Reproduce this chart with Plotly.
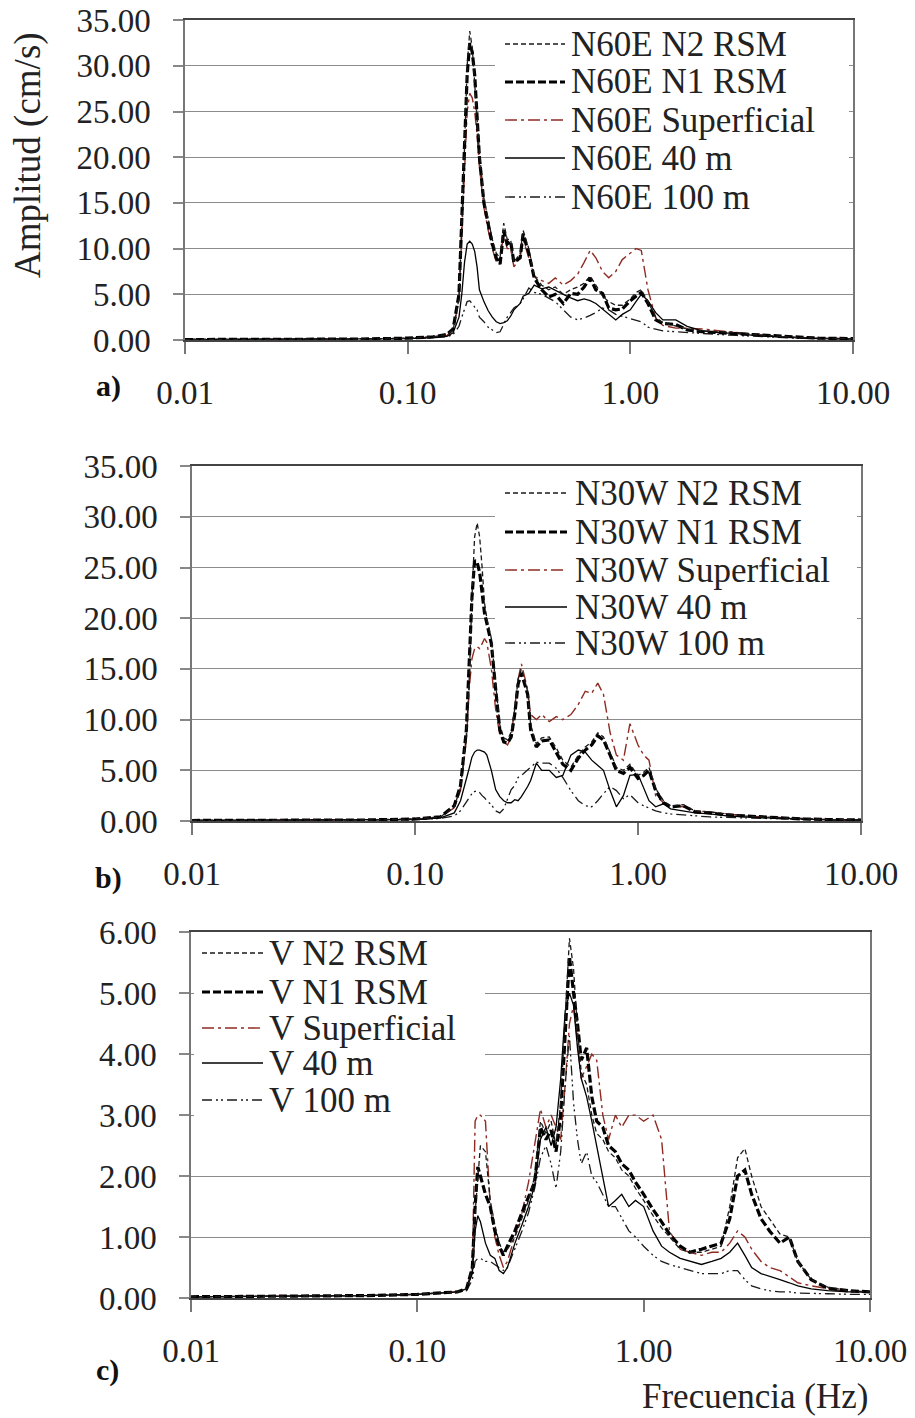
import plotly.graph_objects as go
from plotly.subplots import make_subplots

# the page adds an 8px body margin, so the figure is sized to fit the window
PAGE_W, PAGE_H, BODY = 915, 1418, 8
W, H = PAGE_W - BODY, PAGE_H - BODY
SERIF = "Liberation Serif"

# ---- data -----------------------------------------------------------------
# frequency grid shared by the two horizontal components (Hz)
freq_h = [0.01, 0.03, 0.06, 0.1, 0.13, 0.15, 0.16, 0.17, 0.175, 0.18,
          0.185, 0.19, 0.195, 0.2, 0.205, 0.21, 0.22, 0.23, 0.24, 0.25,
          0.26, 0.27, 0.28, 0.29, 0.30, 0.32, 0.33, 0.35, 0.37, 0.40,
          0.43, 0.46, 0.50, 0.54, 0.58, 0.62, 0.66, 0.70, 0.75, 0.80,
          0.86, 0.92, 1.0, 1.06, 1.12, 1.2, 1.3, 1.4, 1.6, 1.8,
          2.1, 2.5, 3.0, 3.6, 4.5, 5.5, 7.0, 10.0]

# a) N60E (cm/s)
a_n2 = [0.05, 0.08, 0.1, 0.2, 0.35, 0.6, 1.1, 4.5, 12, 21,
        30, 33.8, 32, 28, 24, 20.5, 15.5, 13, 11, 9.5,
        9, 12.8, 11, 11, 8.5, 9.5, 12, 10, 7, 6,
        5.5, 5.8, 5.0, 5.5, 5.8, 6.2, 7, 6.0, 4.8, 4.2,
        3.8, 3.8, 4.5, 5.2, 5.5, 4.2, 2.5, 1.9, 1.5, 1.2,
        1.0, 0.9, 0.8, 0.6, 0.4, 0.3, 0.2, 0.15]
a_n1 = [0.05, 0.08, 0.1, 0.2, 0.35, 0.6, 1.2, 5, 13, 22,
        29, 32.5, 31.5, 29, 25, 20, 15, 12.5, 10.5, 9,
        8.3, 12, 10.5, 10.8, 8.5, 9, 11.6, 9.5, 6.8, 5.5,
        4.7, 5.0, 4.0, 5.1, 5.0, 5.8, 6.8, 5.5, 5.1, 3.5,
        3.3, 3.4, 4.3, 4.8, 5.2, 4.0, 2.2, 1.8, 1.7, 1.1,
        0.9, 0.8, 0.7, 0.6, 0.4, 0.3, 0.2, 0.15]
a_sup = [0.05, 0.08, 0.1, 0.2, 0.3, 0.5, 1.0, 4.5, 11, 19,
         25, 27, 26.5, 25, 22.5, 19, 14.5, 12, 10, 8.5,
         9, 11.5, 10, 10, 8, 9, 11, 9, 7, 6.5,
         6.2, 6.8, 6.0, 6.5, 7.2, 8.5, 9.8, 9.0, 7.5, 6.8,
         7.5, 8.8, 9.5, 10, 9.8, 5.5, 2.4, 1.6, 1.3, 1.3,
         1.2, 1.0, 0.8, 0.6, 0.4, 0.3, 0.2, 0.15]
a_40 = [0.05, 0.08, 0.1, 0.15, 0.25, 0.4, 0.8, 2.5, 5, 8.5,
        10.5, 10.8, 10.5, 9.7, 8, 5.5, 4.2, 3.2, 2.5, 2.0,
        1.8, 1.9, 2.1, 2.6, 3.3, 4.0, 4.8, 5.1, 6.0, 5.6,
        5.8, 5.4, 5.0, 4.6, 4.3, 4.5, 4.3, 4.0, 3.4, 2.8,
        2.2, 2.8, 3.3, 4.2, 5.0, 4.3, 3.0, 2.2, 2.2, 1.5,
        1.0, 0.8, 0.7, 0.5, 0.35, 0.25, 0.15, 0.1]
a_100 = [0.05, 0.08, 0.1, 0.15, 0.25, 0.35, 0.6, 1.5, 2.5, 3.5,
         4.2, 4.3, 4.0, 3.6, 3.3, 2.5, 2.0, 1.4, 1.1, 0.8,
         0.9, 1.8, 2.5, 3.0, 3.5, 4.0, 4.5, 5.7, 5.2, 5.0,
         4.6, 4.2, 3.3, 2.5, 2.2, 2.4, 2.7, 3.0, 3.5, 3.3,
         2.8, 2.6, 2.4, 2.2, 2.0, 1.4, 1.2, 1.0, 0.9, 0.8,
         0.7, 0.6, 0.5, 0.4, 0.3, 0.2, 0.15, 0.1]

# b) N30W (cm/s)
b_n2 = [0.05, 0.08, 0.1, 0.2, 0.4, 1.4, 3.3, 8.5, 14, 22,
        28, 29.4, 28, 25, 21.5, 20, 18, 13.5, 9.5, 8.2,
        8, 8.8, 11, 14, 15, 12.8, 9.5, 7.6, 8.2, 8.3,
        7.2, 6.0, 5.3, 6.5, 7.3, 7.8, 8.7, 8.3, 6.8, 5.3,
        5.0, 5.6, 4.5, 4.8, 5.3, 3.2, 2.0, 1.5, 1.6, 1.0,
        0.9, 0.7, 0.5, 0.4, 0.3, 0.2, 0.15, 0.1]
b_n1 = [0.05, 0.08, 0.1, 0.2, 0.4, 1.5, 3.5, 9, 15, 22,
        25.7, 25.5, 24.5, 22.5, 20.5, 19.5, 17.5, 13, 9, 7.8,
        7.7, 8.3, 10.5, 13.5, 14.6, 12.5, 9, 7.3, 7.9, 8.0,
        6.8, 5.6, 5.0, 6.2, 7.0, 7.5, 8.4, 8.0, 6.5, 5.0,
        4.7, 5.3, 4.2, 4.5, 5.0, 3.0, 1.8, 1.4, 1.5, 0.9,
        0.8, 0.6, 0.5, 0.4, 0.3, 0.2, 0.15, 0.1]
b_sup = [0.05, 0.08, 0.1, 0.2, 0.4, 1.3, 3, 8, 13, 16,
         17, 17.2, 17, 17.5, 18, 17.6, 15, 11, 8.5, 7.8,
         7.5, 8.3, 11, 14, 15.5, 13, 10.5, 10.0, 10.5, 9.8,
         10.3, 10.0, 10.5, 11.5, 12.8, 12.6, 13.6, 12.5, 8.7, 6.5,
         6.0, 9.6, 7.5, 6.5, 6.0, 2.5, 1.8, 1.5, 1.4, 1.0,
         0.9, 0.7, 0.5, 0.4, 0.3, 0.2, 0.15, 0.1]
b_40 = [0.05, 0.08, 0.1, 0.15, 0.3, 0.8, 2, 4, 5.2, 6.3,
        6.8, 7.0, 7.0, 6.9, 6.8, 6.5, 5.0, 3.1, 2.4, 2.0,
        1.8, 1.8, 2.1, 2.0, 2.4, 3.4, 4.0, 5.7, 5.0, 5.0,
        4.3, 4.5, 6.5, 7.0, 6.8, 6.0, 5.5, 5.0, 3.0, 1.4,
        2.5, 4.5, 4.6, 3.2, 2.0, 1.4, 1.7, 1.2, 1.0, 0.8,
        0.7, 0.5, 0.4, 0.3, 0.25, 0.2, 0.12, 0.1]
b_100 = [0.05, 0.08, 0.1, 0.15, 0.25, 0.5, 1.0, 1.8, 2.3, 2.7,
         2.9, 3.0, 2.8, 2.5, 2.3, 2.0, 1.6, 1.0, 0.8, 1.2,
         2.2, 3.1, 3.5, 4.3, 4.5, 5.0, 5.3, 5.8, 5.7, 5.7,
         5.2, 4.3, 3.0, 2.0, 1.5, 1.4, 2.0, 2.7, 3.4, 3.0,
         2.2, 2.6, 1.8, 1.5, 1.3, 1.0, 0.8, 0.7, 0.6, 0.5,
         0.4, 0.35, 0.3, 0.25, 0.2, 0.15, 0.1, 0.08]

# c) V (cm/s)
freq_v = [0.01, 0.03, 0.06, 0.1, 0.13, 0.15, 0.165, 0.175, 0.18, 0.185,
          0.19, 0.2, 0.21, 0.22, 0.23, 0.24, 0.25, 0.27, 0.29, 0.31,
          0.33, 0.35, 0.37, 0.39, 0.41, 0.43, 0.45, 0.47, 0.49, 0.51,
          0.53, 0.56, 0.59, 0.62, 0.66, 0.70, 0.75, 0.80, 0.86, 0.92,
          1.0, 1.1, 1.2, 1.3, 1.45, 1.6, 1.8, 2.0, 2.2, 2.4,
          2.6, 2.8, 3.0, 3.3, 3.6, 4.0, 4.4, 4.8, 5.5, 6.5,
          8.0, 10.0]
c_n2 = [0.02, 0.03, 0.04, 0.06, 0.08, 0.1, 0.15, 0.5, 1.4, 2.0,
        2.5, 2.4, 1.6, 1.2, 0.9, 0.75, 0.8, 1.0, 1.3, 1.6,
        2.0, 2.9, 2.7, 2.9, 2.5, 3.2, 4.6, 5.9, 5.4, 4.4,
        3.7, 3.5, 3.0, 2.7, 2.6, 2.4, 2.3, 2.1, 2.0, 1.8,
        1.6, 1.35, 1.15, 1.0, 0.8, 0.75, 0.75, 0.8, 0.85, 1.5,
        2.3, 2.45, 2.0, 1.5, 1.3, 1.05, 1.0, 0.6, 0.3, 0.18,
        0.12, 0.1]
c_n1 = [0.02, 0.03, 0.04, 0.06, 0.08, 0.1, 0.15, 0.5, 1.5, 2.15,
        2.0, 1.7, 1.5, 1.1, 0.85, 0.7, 0.85, 1.1, 1.4, 1.65,
        1.9, 2.8, 2.6, 2.75, 2.4, 3.0, 4.3, 5.6, 5.0, 4.5,
        3.9, 4.1, 3.3, 2.9, 2.8, 2.5, 2.4, 2.2, 2.1, 1.9,
        1.7, 1.45, 1.25, 1.05, 0.85, 0.75, 0.8, 0.85, 0.9, 1.3,
        2.0, 2.1, 1.7, 1.3, 1.1, 0.9, 1.0, 0.6, 0.3, 0.16,
        0.12, 0.1]
c_sup = [0.02, 0.03, 0.04, 0.06, 0.08, 0.1, 0.15, 0.5, 2.9, 3.0,
         3.0, 2.9, 1.5, 1.0, 0.7, 0.5, 0.6, 1.0, 1.4, 1.9,
         2.5, 3.1, 2.8, 3.0, 2.8, 2.6, 3.5, 4.5, 4.8, 4.2,
         3.6, 3.8, 4.0, 3.9, 3.0, 2.6, 3.0, 2.8, 3.0, 3.0,
         2.9, 3.0, 2.6, 1.1, 0.8, 0.75, 0.7, 0.75, 0.75, 0.9,
         1.1, 1.0, 0.8, 0.6, 0.5, 0.45, 0.35, 0.25, 0.2, 0.15,
         0.1, 0.1]
c_40 = [0.02, 0.03, 0.04, 0.06, 0.08, 0.1, 0.15, 0.4, 1.1, 1.35,
        1.25, 0.9, 0.7, 0.65, 0.45, 0.4, 0.5, 0.9, 1.2, 1.5,
        1.85, 2.6, 2.8, 2.5, 2.8, 3.6, 4.7, 5.0, 4.8, 4.1,
        3.6, 3.3, 2.9, 2.5, 2.0, 1.5, 1.6, 1.7, 1.5, 1.6,
        1.5, 1.1, 0.85, 0.75, 0.65, 0.6, 0.55, 0.6, 0.65, 0.75,
        0.9, 0.7, 0.5, 0.4, 0.35, 0.3, 0.25, 0.2, 0.15, 0.12,
        0.1, 0.1]
c_100 = [0.02, 0.03, 0.04, 0.06, 0.08, 0.1, 0.12, 0.3, 0.6, 0.65,
         0.65, 0.6, 0.6, 0.55, 0.5, 0.45, 0.5, 0.8, 1.1, 1.4,
         1.8, 2.3, 2.5, 2.2, 1.8, 2.4, 3.5, 4.3, 3.2, 2.6,
         2.2, 2.4, 2.0, 1.9, 1.7, 1.5, 1.5, 1.3, 1.1, 1.0,
         0.85, 0.7, 0.6, 0.55, 0.5, 0.45, 0.4, 0.4, 0.4, 0.45,
         0.45, 0.3, 0.2, 0.15, 0.12, 0.1, 0.1, 0.08, 0.08, 0.07,
         0.06, 0.06]

x_tickvals = [0.01, 0.1, 1, 10]
x_ticktext = ["0.01", "0.10", "1.00", "10.00"]
series_names = ["N2 RSM", "N1 RSM", "Superficial", "40 m", "100 m"]

# ---- styles ------------------------------------------------------------------
LINE_STYLES = [
    dict(color="#1a1a1a", width=1.3, dash="5px,3px"),                 # N2 RSM
    dict(color="#000000", width=3.2, dash="8px,3px"),                 # N1 RSM
    dict(color="#8e2b22", width=1.4, dash="12px,4px,3px,4px"),        # Superficial
    dict(color="#000000", width=1.3),                                 # 40 m
    dict(color="#1a1a1a", width=1.3, dash="10px,4px,2px,3px,2px,4px"),  # 100 m
]
DRAW_ORDER = [2, 4, 3, 1, 0]
TICK_FONT = dict(family=SERIF, size=33, color="#222")
LEG_FONT = dict(family=SERIF, size=35, color="#222")

# panel geometry in page pixels: plot box + legend box/rows
PANELS = [
    dict(freq=freq_h, data=[a_n2, a_n1, a_sup, a_40, a_100], prefix="N60E", ymax=35, dtick=5,
         box=(185, 20, 853, 340), leg_box=(495, 23, 849, 214), leg_x=(505, 565, 569),
         leg_rows=[44, 82, 120, 158, 197], tag=("a)", 108, 386)),
    dict(freq=freq_h, data=[b_n2, b_n1, b_sup, b_40, b_100], prefix="N30W", ymax=35, dtick=5,
         box=(192, 466, 861, 821), leg_box=(495, 470, 857, 662), leg_x=(505, 567, 573),
         leg_rows=[493, 532, 570, 607, 643], tag=("b)", 108, 878)),
    dict(freq=freq_v, data=[c_n2, c_n1, c_sup, c_40, c_100], prefix="V", ymax=6, dtick=1,
         box=(191, 932, 870, 1298), leg_box=(194, 935, 485, 1122), leg_x=(202, 263, 267),
         leg_rows=[953, 992, 1028, 1063, 1100], tag=("c)", 107, 1370)),
]


def px(x):
    return (x - BODY) / W


def py(y):
    return 1 - (y - BODY) / H


fig = make_subplots(rows=3, cols=1)
shapes, annotations = [], []

for i, p in enumerate(PANELS):
    r = i + 1
    x0, y0, x1, y1 = p["box"]
    for k in DRAW_ORDER:
        fig.add_trace(go.Scatter(
            x=p["freq"], y=p["data"][k], mode="lines",
            name=f"{p['prefix']} {series_names[k]}", line=LINE_STYLES[k],
            showlegend=False, hoverinfo="skip"), row=r, col=1)

    sfx = "" if r == 1 else str(r)
    fig.layout[f"xaxis{sfx}"].update(
        domain=[px(x0), px(x1)], type="log", range=[-2, 1], automargin=False,
        tickvals=x_tickvals, ticktext=x_ticktext,
        ticks="outside", ticklen=12, tickwidth=1.5, tickcolor="#777",
        ticklabelstandoff=10, ticklabeloverflow="allow",
        showline=True, linecolor="#444", linewidth=1.8, mirror=True,
        showgrid=False, zeroline=False, tickfont=TICK_FONT)
    fig.layout[f"yaxis{sfx}"].update(
        domain=[py(y1), py(y0)], range=[0, p["ymax"] * 1.0005], dtick=p["dtick"], tickformat=".2f",
        automargin=False,
        ticks="outside", ticklen=10, tickwidth=1.5, tickcolor="#888",
        ticklabelstandoff=16, ticklabeloverflow="allow",
        showline=True, linecolor="#777", linewidth=1.5, mirror=True,
        showgrid=True, gridcolor="#8c8c8c", gridwidth=1.4, zeroline=False, tickfont=TICK_FONT)

    # legend drawn by hand so it keeps the tight row spacing of the original;
    # white panel sits between gridlines and traces, like the original legend box
    bx0, by0, bx1, by1 = p["leg_box"]
    lx = lambda v: 10 ** (-2 + 3 * (v - x0) / (x1 - x0))
    ly = lambda v: (y1 - v) / (y1 - y0) * p["ymax"]
    shapes.append(dict(
        type="rect", xref=f"x{sfx}", yref=f"y{sfx}", layer="between",
        x0=lx(bx0), x1=lx(bx1), y0=ly(by1), y1=ly(by0),
        fillcolor="white", line=dict(width=0)))
    sx0, sx1, tx = p["leg_x"]
    for k, row_y in enumerate(p["leg_rows"]):
        st = LINE_STYLES[k]
        shapes.append(dict(
            type="line", xref="paper", yref="paper", layer="above",
            x0=px(sx0), x1=px(sx1), y0=py(row_y), y1=py(row_y),
            line=dict(color=st["color"], width=st["width"], dash=st.get("dash", "solid"))))
        annotations.append(dict(
            x=px(tx), y=py(row_y), xref="paper", yref="paper", xanchor="left", yanchor="middle",
            text=f"{p['prefix']} {series_names[k]}", showarrow=False, font=LEG_FONT))

    tag, tgx, tgy = p["tag"]
    annotations.append(dict(
        x=px(tgx), y=py(tgy), xref="paper", yref="paper", xanchor="center", yanchor="middle",
        text=f"<b>{tag}</b>", showarrow=False, font=dict(family=SERIF, size=30, color="#111")))

annotations.append(dict(
    x=px(755), y=0, xref="paper", yref="paper", xanchor="center", yanchor="bottom",
    text="Frecuencia (Hz)", showarrow=False, font=dict(family=SERIF, size=35, color="#222")))
annotations.append(dict(
    x=px(28), y=py(155), xref="paper", yref="paper", xanchor="center", yanchor="middle",
    text="Amplitud (cm/s)", textangle=-90, showarrow=False,
    font=dict(family=SERIF, size=37, color="#222")))

fig.update_layout(
    width=W, height=H,
    margin=dict(l=0, r=0, t=0, b=0),
    paper_bgcolor="white", plot_bgcolor="white",
    showlegend=False,
    shapes=shapes, annotations=annotations,
)

fig.write_html("out.html")
